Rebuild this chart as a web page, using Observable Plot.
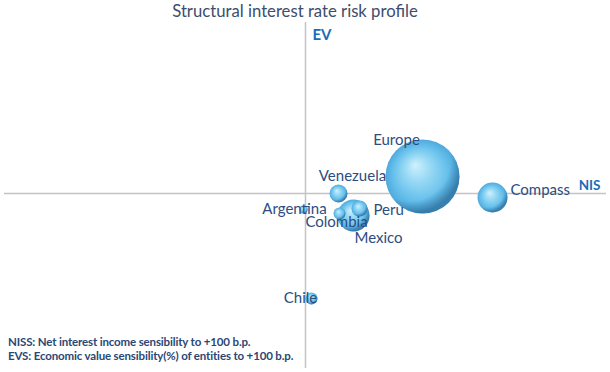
<!DOCTYPE html>
<html>
<head>
<meta charset="utf-8">
<script src="https://cdn.jsdelivr.net/npm/d3@7"></script>
<script src="https://cdn.jsdelivr.net/npm/@observablehq/plot@0.6"></script>
<style>
  html, body { margin: 0; padding: 0; background: #fff; }
  #wrap { position: relative; width: 610px; height: 372px; overflow: hidden; font-family: Lato, "Open Sans", sans-serif; }
  #title { position: absolute; left: 0; top: 1px; width: 590px; text-align: center; font-size: 16.7px; color: #3c4d6e; line-height: 20px; }
  #chart { position: absolute; left: 0; top: 22px; }
  #caption { position: absolute; left: 8px; top: 335px; font-size: 11.5px; font-weight: bold; color: #2b4775; line-height: 13.5px; letter-spacing: -0.15px; }
</style>
</head>
<body>
<div id="wrap">
  <div id="title">Structural interest rate risk profile</div>
  <div id="chart"></div>
  <div id="caption">NISS: Net interest income sensibility to +100 b.p.<br>EVS: Economic value sensibility(%) of entities to +100 b.p.</div>
</div>
<script>
// Data (NIS sensitivity, EV sensitivity, bubble size)
const entities = ["Europe", "Compass", "Venezuela", "Argentina", "Colombia", "Mexico", "Peru", "Chile"];
const nis = [11.7, 18.7, 3.3, -0.2, 3.4, 4.8, 5.4, 0.6];
const ev = [1.7, -0.4, 0.0, -1.6, -2.0, -2.2, -1.5, -10.5];
const sizes = [100, 16.4, 5.9, 1.2, 2.6, 18.7, 4.7, 2.6];

const data = entities.map((name, i) => ({name, nis: nis[i], ev: ev[i], size: sizes[i]}));

// label placement relative to bubble (styling only)
const labelPlace = {
  Europe:    {dx: -26, dy: -36, anchor: "middle"},
  Compass:   {dx: 18,  dy: -7,  anchor: "start"},
  Venezuela: {dx: 14,  dy: -17, anchor: "middle"},
  Argentina: {dx: -9,  dy: 0,   anchor: "middle"},
  Colombia:  {dx: -3,  dy: 9,   anchor: "middle"},
  Mexico:    {dx: 25,  dy: 23,  anchor: "middle"},
  Peru:      {dx: 14,  dy: 2,   anchor: "start"},
  Chile:     {dx: -11, dy: 0,   anchor: "middle"}
};

const labelMarks = data.map(d => {
  const p = labelPlace[d.name];
  return Plot.text([d], {
    x: "nis", y: "ev", text: "name",
    dx: p.dx, dy: p.dy, textAnchor: p.anchor,
    fill: "#2d4d80", fontSize: 15, fontFamily: "Lato, 'Open Sans', sans-serif"
  });
});

// bubbles: largest first, each with a base fill and a shading overlay
const bubbleMarks = d3.sort(data, d => -d.size).flatMap(d => [
  Plot.dot([d], {x: "nis", y: "ev", r: "size", fill: "url(#ball)", stroke: "none"}),
  Plot.dot([d], {x: "nis", y: "ev", r: "size", fill: "url(#shade)", stroke: "none"})
]);

const svg = Plot.plot({
  width: 610,
  height: 350,
  marginTop: 0, marginBottom: 0, marginLeft: 0, marginRight: 0,
  x: {domain: [-30.5, 30.5], axis: null},
  y: {domain: [-17.9, 17.1], axis: null},
  r: {type: "sqrt", domain: [0, 100], range: [0, 37]},
  style: {background: "transparent"},
  marks: [
    Plot.ruleY([0], {stroke: "#c4c4c4", strokeWidth: 1.5, insetLeft: 4, insetRight: 4}),
    Plot.ruleX([0], {stroke: "#c4c4c4", strokeWidth: 1.5, insetBottom: 4}),
    ...bubbleMarks,
    ...labelMarks,
    Plot.text(["EV"], {x: 0, frameAnchor: "top", dx: 7, dy: 7, textAnchor: "start", fill: "#1a6db5", fontWeight: "bold", fontSize: 15, fontFamily: "Lato, sans-serif"}),
    Plot.text(["NIS"], {y: 0, frameAnchor: "right", dx: -10, dy: -8, textAnchor: "end", fill: "#1a6db5", fontWeight: "bold", fontSize: 13.5, fontFamily: "Lato, sans-serif"})
  ]
});

const defs = d3.select(svg).insert("defs", ":first-child");
const g = defs.append("radialGradient").attr("id", "ball")
  .attr("cx", "0.5").attr("cy", "0.5").attr("r", "0.5")
  .attr("fx", "0.4").attr("fy", "0.34");
[
  [0, "#cff1fc"], [0.35, "#98d9f5"], [0.75, "#64bfeb"], [1, "#4fa9dc"]
].forEach(([o, c]) => g.append("stop").attr("offset", o).attr("stop-color", c));

const s = defs.append("radialGradient").attr("id", "shade")
  .attr("cx", "0.32").attr("cy", "0.27").attr("r", "0.85");
[
  [0, "#0f3a66", 0], [0.66, "#0f3a66", 0], [0.86, "#0f3a66", 0.42],
  [0.94, "#0f3a66", 0.38], [1, "#0f3a66", 0.15]
].forEach(([o, c, a]) => s.append("stop").attr("offset", o).attr("stop-color", c).attr("stop-opacity", a));

document.getElementById("chart").appendChild(svg);
</script>
</body>
</html>
